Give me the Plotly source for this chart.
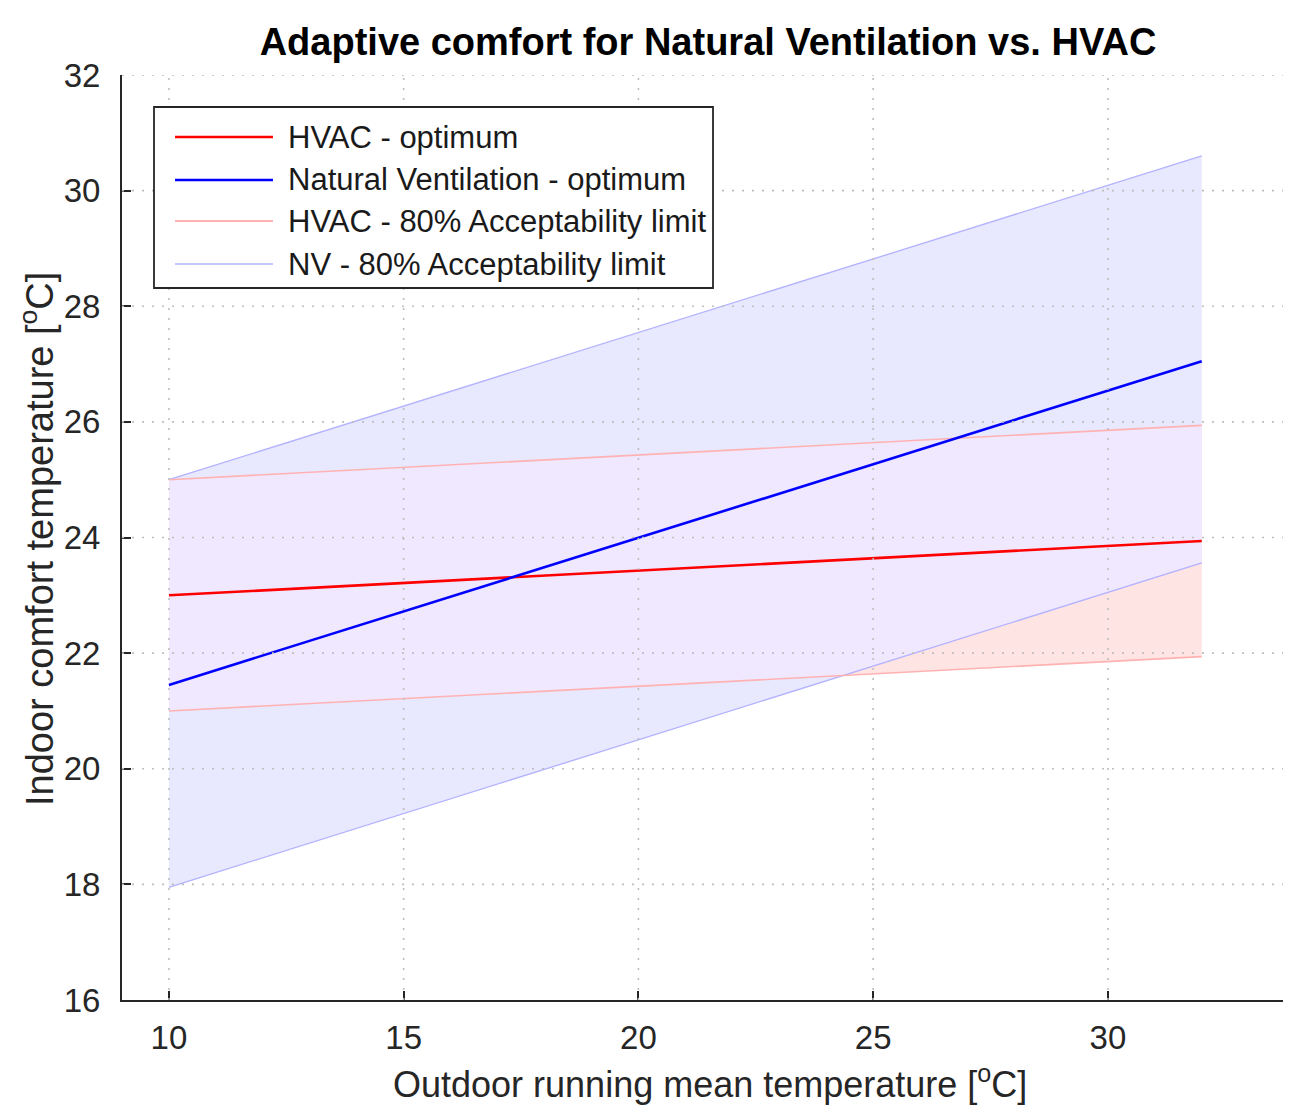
import numpy as np
import plotly.graph_objects as go

# ---- data ----
x_outdoor = [10, 32]
hvac_opt = [23.0, 23.94]
hvac_lo = [21.0, 21.94]
hvac_hi = [25.0, 25.94]
nv_opt = [21.45, 27.05]
nv_lo = [17.95, 23.56]
nv_hi = [25.0, 30.6]

x_ticks = [10, 15, 20, 25, 30]
y_ticks = [16, 18, 20, 22, 24, 26, 28, 30, 32]
legend_labels = ["HVAC - optimum", "Natural Ventilation - optimum",
                 "HVAC - 80% Acceptability limit", "NV - 80% Acceptability limit"]

# ---- styles ----
C_RED = "rgb(255,0,0)"
C_BLUE = "rgb(0,0,255)"
C_RED_L = "rgb(255,178,178)"
C_BLUE_L = "rgb(178,178,255)"
F_NV = "rgb(232,232,255)"
F_HV = "rgb(255,228,228)"
F_OV = "rgb(240,232,255)"
AX = "#262626"
FONT = "Liberation Sans, Arial, sans-serif"

# page geometry (the figure sits 8px in from the page corner)
OFF = 8
W, H = 1275, 1099
P_L, P_R, P_T, P_B = 122, 1283, 75, 1000


def crossings(xs, a, b):
    pts = []
    for i in range(len(xs) - 1):
        d0 = a[i] - b[i]
        d1 = a[i + 1] - b[i + 1]
        if d0 * d1 < 0:
            t = d0 / (d0 - d1)
            pts.append(xs[i] + t * (xs[i + 1] - xs[i]))
    return pts


xv = sorted(set(list(x_outdoor) + crossings(x_outdoor, hvac_lo, nv_lo)
                + crossings(x_outdoor, hvac_hi, nv_hi)))
ov_lo = np.maximum(np.interp(xv, x_outdoor, hvac_lo), np.interp(xv, x_outdoor, nv_lo))
ov_hi = np.minimum(np.interp(xv, x_outdoor, hvac_hi), np.interp(xv, x_outdoor, nv_hi))

fig = go.Figure()


def band(xs, lo, hi, color):
    fig.add_trace(go.Scatter(x=xs, y=lo, mode="lines", line=dict(width=0),
                             showlegend=False, hoverinfo="skip"))
    fig.add_trace(go.Scatter(x=xs, y=hi, mode="lines", line=dict(width=0),
                             fill="tonexty", fillcolor=color,
                             showlegend=False, hoverinfo="skip"))


band(x_outdoor, nv_lo, nv_hi, F_NV)
band(x_outdoor, hvac_lo, hvac_hi, F_HV)
band(list(xv), list(ov_lo), list(ov_hi), F_OV)

for y, c, w in [(nv_lo, C_BLUE_L, 1.3), (nv_hi, C_BLUE_L, 1.3),
                (hvac_lo, C_RED_L, 1.6), (hvac_hi, C_RED_L, 1.6),
                (hvac_opt, C_RED, 2.6), (nv_opt, C_BLUE, 2.6)]:
    fig.add_trace(go.Scatter(x=x_outdoor, y=y, mode="lines",
                             line=dict(color=c, width=w), showlegend=False))

shapes = []
# dotted grid drawn above the opaque fills
for xt in x_ticks:
    shapes.append(dict(type="line", xref="x", yref="paper", x0=xt, x1=xt, y0=0, y1=1,
                       line=dict(color="rgb(190,190,190)", width=1.6, dash="2px,8px"),
                       layer="above"))
for yt in y_ticks[1:]:
    shapes.append(dict(type="line", xref="paper", yref="y", x0=0, x1=1, y0=yt, y1=yt,
                       line=dict(color="rgb(190,190,190)", width=1.6, dash="2px,8px"),
                       layer="above"))

PW = P_R - P_L
PH = P_B - P_T


def px(xp):
    return (xp - P_L) / PW


def py(yp):
    return (P_B - yp) / PH


# manual legend
shapes.append(dict(type="rect", xref="paper", yref="paper",
                   x0=px(154), x1=px(713), y0=py(288), y1=py(107),
                   fillcolor="white", line=dict(color="#262626", width=1.8), layer="above"))
leg_y = [137, 180, 221, 264]
leg_col = [C_RED, C_BLUE, C_RED_L, C_BLUE_L]
leg_w = [2.6, 2.6, 2.0, 1.6]
annotations = []
for lab, yy, c, w in zip(legend_labels, leg_y, leg_col, leg_w):
    shapes.append(dict(type="line", xref="paper", yref="paper",
                       x0=px(175), x1=px(273), y0=py(yy), y1=py(yy),
                       line=dict(color=c, width=w), layer="above"))
    annotations.append(dict(xref="paper", yref="paper", x=px(286), y=py(yy),
                            xanchor="left", yanchor="middle", showarrow=False,
                            text=lab, font=dict(family=FONT, size=31, color="#1a1a1a")))

# axis titles
annotations.append(dict(xref="paper", yref="paper", x=px(710), y=py(1082),
                        xanchor="center", yanchor="middle", showarrow=False,
                        text="Outdoor running mean temperature [<sup>o</sup>C]",
                        font=dict(family=FONT, size=36, color=AX)))
annotations.append(dict(xref="paper", yref="paper", x=px(37), y=py(539),
                        xanchor="center", yanchor="middle", showarrow=False, textangle=-90,
                        text="Indoor comfort temperature [<sup>o</sup>C]",
                        font=dict(family=FONT, size=38, color=AX)))

fig.update_layout(
    width=W, height=H,
    margin=dict(l=P_L - OFF, r=OFF + W - P_R, t=P_T - OFF, b=OFF + H - P_B),
    paper_bgcolor="white", plot_bgcolor="white",
    showlegend=False,
    title=dict(text="<b>Adaptive comfort for Natural Ventilation vs. HVAC</b>",
               x=px(708), xref="paper", xanchor="center",
               y=1 - (42 - OFF) / H, yref="container", yanchor="middle",
               font=dict(family=FONT, size=38, color="black")),
    shapes=shapes, annotations=annotations,
)
fig.update_xaxes(range=[9, 33.73], tickvals=x_ticks, ticktext=[str(v) for v in x_ticks],
                 showgrid=False, zeroline=False, showline=True, linecolor=AX, linewidth=2,
                 ticks="inside", ticklen=9, tickwidth=2, tickcolor=AX,
                 tickfont=dict(family=FONT, size=33, color=AX), ticklabelstandoff=7,
                 layer="above traces")
fig.update_yaxes(range=[16, 32], tickvals=y_ticks, ticktext=[str(v) for v in y_ticks],
                 showgrid=False, zeroline=False, showline=True, linecolor=AX, linewidth=2,
                 ticks="inside", ticklen=9, tickwidth=2, tickcolor=AX,
                 tickfont=dict(family=FONT, size=33, color=AX), ticklabelstandoff=13,
                 layer="above traces")

fig.write_html("out.html")
